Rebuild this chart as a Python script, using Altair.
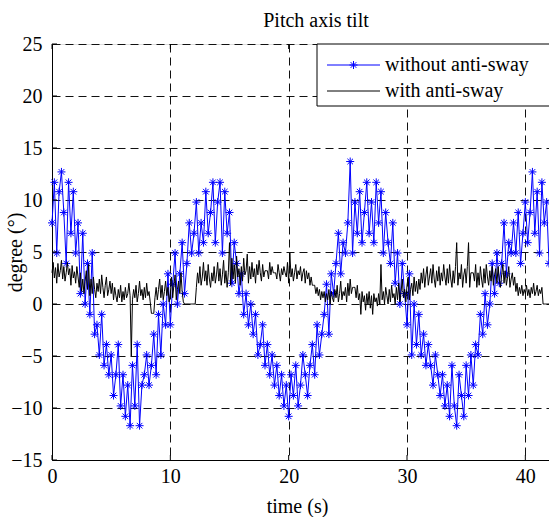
import altair as alt
import pandas as pd

# ---------------- data ----------------
blue_step = 0.2   # s between samples, "without anti-sway"
black_step = 0.1  # s between samples, "with anti-sway"

blue_vals = [
    7.8, 11.7, 4.9, 10.8, 12.7,
    8.8, 3.9, 11.7, 6.8, 10.8,
    4.9, 7.8, 1.0, 6.8, 0.0,
    3.9, -1.0, 4.9, -2.9, -2.0,
    -4.9, -1.0, -5.9, -3.9, -6.8,
    -4.9, -8.8, -6.8, -3.9, -9.8,
    -6.8, -10.8, -7.8, -11.7, -5.9,
    -9.8, -3.9, -11.7, -7.8, -6.8,
    -4.9, -7.8, -5.9, -2.9, -6.8,
    -1.0, -4.9, 0.0, -2.0, 2.9,
    -2.0, 1.9, 4.9, 0.0, 2.9,
    5.9, 1.0, 3.9, 7.8, 4.9,
    6.8, 9.8, 4.9, 7.8, 5.9,
    10.8, 6.8, 8.8, 11.7, 5.9,
    9.8, 11.7, 4.9, 10.8, 6.8,
    8.8, 2.0, 5.9, 3.9, 1.0,
    2.9, -1.0, 1.0, -2.0, 0.0,
    -2.9, -1.0, -4.9, -3.9, -2.0,
    -5.9, -3.9, -6.8, -4.9, -7.8,
    -5.9, -8.8, -6.8, -9.8, -7.8,
    -10.8, -6.8, -8.8, -5.9, -9.8,
    -7.8, -4.9, -6.8, -8.8, -5.9,
    -3.9, -6.8, -2.0, -4.9, -2.9,
    -1.0, 1.9, -2.9, 2.9, 1.0,
    3.9, 6.8, 2.9, 5.9, 4.9,
    7.8, 13.7, 4.9, 9.8, 6.8,
    10.8, 5.9, 8.8, 11.7, 6.8,
    9.8, 5.9, 11.7, 7.8, 10.8,
    4.9, 8.8, 5.9, 3.9, 7.8,
    2.0, 4.9, 0.0, 3.9, 1.0,
    -2.0, 2.9, -4.9, 0.0, -3.9,
    -1.0, -4.9, -2.9, -5.9, -3.9,
    -5.9, -7.8, -4.9, -6.8, -8.8,
    -6.8, -9.8, -7.8, -10.8, -5.9,
    -9.8, -11.7, -6.8, -8.8, -10.8,
    -5.9, -8.8, -4.9, -7.8, -3.9,
    -4.9, -1.0, -2.9, 1.0, -2.0,
    0.0, 3.9, 1.0, 4.9, 2.0,
    3.9, 7.8, 2.9, 5.9, 4.9,
    7.8, 4.9, 8.8, 3.9, 6.8,
    9.8, 5.9, 8.8, 12.7, 6.8,
    10.8, 4.9, 11.7, 7.8, 9.8,
    3.9,
]

black_vals = [
    3.0, 4.0, 2.5, 3.5, 2.0, 3.9, 2.6, 3.2, 4.2, 2.4,
    3.6, 2.2, 3.0, 4.0, 2.8, 3.4, 1.8, 3.7, 2.5, 3.1,
    2.0, 3.6, 2.6, 1.6, 3.0, 1.2, 2.4, 1.0, 2.2, 3.2,
    1.4, 3.8, 0.8, 2.4, 1.0, 2.6, 1.4, 0.6, 2.0, 1.2,
    2.4, 1.0, 2.8, 1.6, 0.6, 1.8, 2.6, 0.8, 1.4, 2.2,
    1.0, 2.0, 0.4, 1.6, 0.8, 0.2, 1.4, 0.6, 1.8, 0.2,
    1.2, 0.4, 1.6, 0.6, 1.0, 2.0, 0.8, -5.0, 0.4, 1.4,
    0.6, 1.8, 0.2, 1.0, 2.2, 0.8, 1.4, 0.4, 1.6, 0.6,
    2.0, 0.8, 1.2, 0.2, -0.9, -0.9, -0.9, 0.6, 1.6, 0.4,
    1.4, 2.4, 0.6, 1.8, 0.4, 1.2, 2.2, 0.8, 1.6, 0.2,
    1.0, 2.6, 0.6, 1.8, 2.8, 0.4, 1.4, 2.2, 1.0, 3.0,
    1.2, 0.2, 0.0, 0.0, 0.0, 0.0, 0.0, 0.0, 0.0, 0.0,
    0.0, 0.0, 1.6, 3.0, 2.0, 3.6, 1.8, 2.6, 4.0, 2.2,
    3.2, 1.8, 3.8, 2.4, 1.6, 3.0, 2.2, 3.6, 2.0, 2.8,
    4.0, 2.2, 3.4, 1.8, 2.8, 4.2, 2.0, 3.2, 1.6, 3.0,
    5.9, 1.8, 4.4, 2.4, 3.8, 2.0, 4.6, 2.6, 3.4, 1.8,
    3.6, 2.2, 4.4, 2.8, 3.2, 4.8, 2.0, 3.6, 2.4, 4.0,
    2.6, 3.4, 2.0, 3.8, 2.8, 4.2, 3.0, 2.2, 3.8, 2.6,
    3.2, 3.2, 3.2, 2.4, 4.0, 2.8, 3.6, 3.0, 3.0, 3.0,
    2.4, 3.8, 3.0, 2.2, 3.4, 2.8, 3.6, 3.0, 2.6, 4.0,
    2.0, 4.9, 2.6, 3.4, 2.2, 3.0, 3.8, 2.4, 3.2, 2.8,
    3.6, 2.2, 3.0, 3.4, 2.0, 3.2, 2.4, 3.0, 1.8, 2.6,
    1.8, 1.8, 1.8, 1.0, 1.6, 0.8, 1.4, 0.4, 1.2, 0.6,
    1.2, 0.2, 1.0, 0.4, 1.4, 0.0, 1.2, 0.6, 0.2, 1.4,
    0.6, 1.8, 0.2, 1.0, 2.2, 0.4, 1.2, 0.8, 1.6, 0.2,
    2.0, 0.8, 2.4, 1.0, 1.6, 1.6, 1.6, 0.6, 1.8, 0.4,
    1.0, -1.0, 1.2, 0.2, 0.8, -0.6, 1.0, 0.0, 1.2, -0.4,
    0.8, -1.0, 1.0, 0.2, 0.6, -0.2, 1.0, 0.0, 3.8, 0.4,
    1.2, 0.0, 1.6, 0.8, 0.0, 1.4, 0.2, 1.8, 0.6, 1.0,
    0.0, 1.6, 0.4, 2.0, 0.2, 1.2, 2.4, 0.6, 1.4, 0.2,
    1.8, 2.6, 0.4, 1.4, 2.0, 0.8, 2.6, 1.2, 2.2, 1.0,
    2.4, 1.4, 3.0, 2.0, 3.4, 1.6, 2.8, 3.6, 1.8, 2.6,
    3.4, 2.0, 3.8, 2.4, 1.6, 3.2, 2.2, 3.6, 1.8, 3.0,
    2.2, 3.8, 2.6, 1.8, 3.4, 2.0, 3.8, 2.4, 1.6, 3.2,
    2.0, 3.6, 5.9, 1.8, 3.0, 2.4, 3.8, 1.6, 2.8, 3.4,
    2.0, 3.6, 5.9, 1.6, 3.0, 3.0, 3.0, 2.2, 3.8, 1.6,
    3.0, 1.8, 3.6, 2.4, 1.6, 3.4, 2.0, 3.8, 2.6, 1.8,
    3.2, 2.2, 3.6, 1.8, 2.8, 3.4, 2.0, 3.6, 2.4, 1.6,
    2.8, 3.8, 2.0, 3.2, 1.8, 2.6, 3.6, 1.6, 2.4, 3.0,
    1.8, 2.6, 1.2, 2.0, 0.8, 1.6, 1.0, 1.8, 0.8, 1.4,
    1.0, 1.8, 0.8, 1.4, 0.6, 1.6, 1.0, 2.0, 0.8, 1.2,
    1.8, 0.8, 1.4, 1.0, 1.6, 0.0, 0.0, 0.0, 0.0, 0.0,
    0.0,
]

x_ticks = [0, 10, 20, 30, 40]
y_ticks = [-15, -10, -5, 0, 5, 10, 15, 20, 25]
series_names = ["without anti-sway", "with anti-sway"]
title_text = "Pitch axis tilt"
x_title = "time (s)"
y_title = "degree (°)"

# ---------------- layout ----------------
W, H = 497, 416
FONT = "Liberation Serif"
FS = 20
BLUE = "#0000ff"
STAR = "M-1,0L1,0M0,-1L0,1M-0.7,-0.7L0.7,0.7M-0.7,0.7L0.7,-0.7"

blue_df = pd.DataFrame({"t": [round(i * blue_step, 2) for i in range(len(blue_vals))],
                        "v": blue_vals})
black_df = pd.DataFrame({"t": [round(i * black_step, 2) for i in range(len(black_vals))],
                         "v": black_vals})

xs = alt.Scale(domain=[0, 42], nice=False, zero=False)
ys = alt.Scale(domain=[-15, 25], nice=False, zero=False)

x_axis = alt.Axis(values=x_ticks, grid=True, gridDash=[8, 5], gridColor="#111",
                  gridWidth=1, ticks=False, domainColor="#000", domainWidth=1,
                  labelFont=FONT, labelFontSize=FS, labelColor="#000", labelPadding=6,
                  labelFlush=False, labelOverlap=False,
                  title=x_title, titleFont=FONT, titleFontSize=FS, titleFontWeight="normal",
                  titleColor="#000", titleX=245, titleY=46, titleBaseline="middle",
                  titleAlign="center")
y_axis = alt.Axis(values=y_ticks, grid=True, gridDash=[8, 5], gridColor="#111",
                  gridWidth=1, ticks=False, domainColor="#000", domainWidth=1,
                  labelFont=FONT, labelFontSize=FS, labelColor="#000", labelPadding=10,
                  labelOverlap=False,
                  title=y_title, titleFont=FONT, titleFontSize=FS, titleFontWeight="normal",
                  titleColor="#000", titleX=-37, titleY=H / 2, titleAngle=-90,
                  titleBaseline="middle", titleAlign="center")

X = alt.X("t:Q", scale=xs, axis=x_axis)
Y = alt.Y("v:Q", scale=ys, axis=y_axis)

blue_line = alt.Chart(blue_df).mark_line(color=BLUE, strokeWidth=1).encode(x=X, y=Y)
blue_pts = alt.Chart(blue_df).mark_point(shape=STAR, filled=False, stroke=BLUE,
                                         strokeWidth=1, size=64, opacity=1).encode(x=X, y=Y)
black_line = alt.Chart(black_df).mark_line(color="#000", strokeWidth=1).encode(x=X, y=Y)

# inward ticks (MATLAB style)
xt_df = pd.DataFrame({"t": x_ticks})
yt_df = pd.DataFrame({"v": y_ticks})
tick_bottom = alt.Chart(xt_df).mark_rule(color="#000", strokeWidth=1).encode(
    x=X, y=alt.value(H), y2=alt.value(H - 5))
tick_top = alt.Chart(xt_df).mark_rule(color="#000", strokeWidth=1).encode(
    x=X, y=alt.value(0), y2=alt.value(5))
tick_left = alt.Chart(yt_df).mark_rule(color="#000", strokeWidth=1).encode(
    y=Y, x=alt.value(0), x2=alt.value(5))

one = pd.DataFrame({"a": [0]})

# chart title as text
title_mark = alt.Chart(one).mark_text(align="center", baseline="alphabetic", font=FONT,
                                      fontSize=FS, color="#000").encode(
    x=alt.value(264), y=alt.value(-17), text=alt.value(title_text))

# legend box
leg_box = alt.Chart(one).mark_rect(fill="#fff", stroke="#000", strokeWidth=1).encode(
    x=alt.value(265), x2=alt.value(520), y=alt.value(0), y2=alt.value(62))
leg_l1 = alt.Chart(one).mark_rule(color=BLUE, strokeWidth=1).encode(
    x=alt.value(275), x2=alt.value(328), y=alt.value(21))
leg_p1 = alt.Chart(one).mark_point(shape=STAR, filled=False, stroke=BLUE, strokeWidth=1,
                                   size=64, opacity=1).encode(
    x=alt.value(301.5), y=alt.value(21))
leg_t1 = alt.Chart(one).mark_text(align="left", baseline="middle", font=FONT,
                                  fontSize=FS, color="#000").encode(
    x=alt.value(333), y=alt.value(21), text=alt.value(series_names[0]))
leg_l2 = alt.Chart(one).mark_rule(color="#000", strokeWidth=1).encode(
    x=alt.value(275), x2=alt.value(328), y=alt.value(47))
leg_t2 = alt.Chart(one).mark_text(align="left", baseline="middle", font=FONT,
                                  fontSize=FS, color="#000").encode(
    x=alt.value(333), y=alt.value(47), text=alt.value(series_names[1]))

chart = alt.layer(
    blue_line, blue_pts, black_line, tick_bottom, tick_top, tick_left, title_mark,
    leg_box, leg_l1, leg_p1, leg_t1, leg_l2, leg_t2,
).properties(
    width=W, height=H,
    autosize=alt.AutoSizeParams(type="none"),
    padding={"left": 52, "top": 44, "right": 0, "bottom": 57},
).configure_view(strokeWidth=0).configure(
    background="#ffffff", font=FONT
).configure_axis(labelFont=FONT, titleFont=FONT, labelFontSize=FS, titleFontSize=FS,
                 labelColor="#000", titleColor="#000")

chart.save("out.html", embed_options={"renderer": "svg", "actions": False})
